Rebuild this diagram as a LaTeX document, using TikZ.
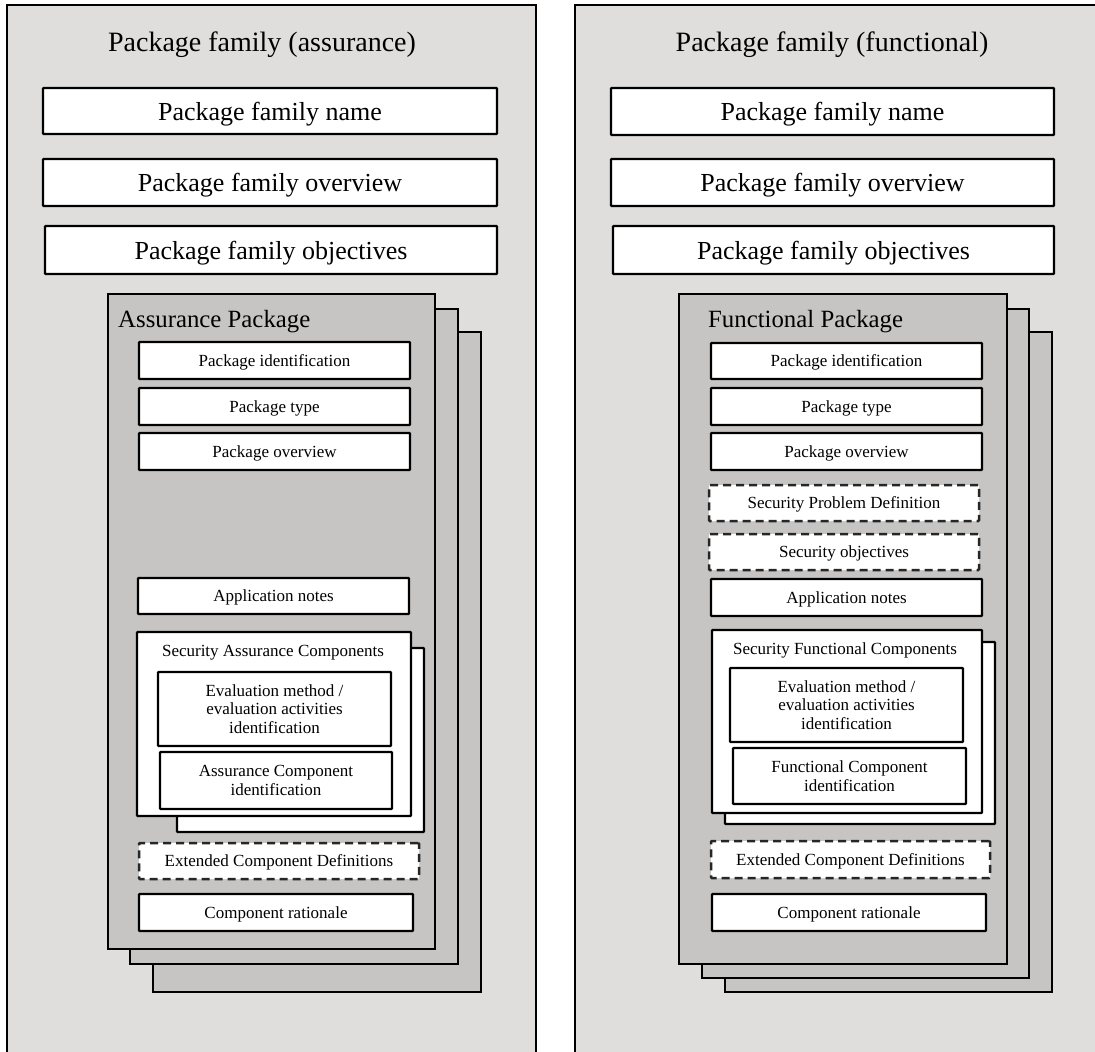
\documentclass[tikz,border=0pt]{standalone}
\usepackage{fontspec}
\setmainfont{Liberation Serif}
\definecolor{panelgray}{HTML}{DFDEDC}
\definecolor{pkggray}{HTML}{C6C5C4}
\definecolor{dashgray}{HTML}{262626}
\tikzset{
  panel/.style={draw=black, line width=2.3pt, fill=panelgray, inner sep=0pt},
  pkgbox/.style={draw=black, line width=2.3pt, fill=pkggray, inner sep=0pt},
  wbox/.style={draw=black, line width=2.3pt, fill=white, rounded corners=0.8pt, inner sep=0pt, align=center, text depth=0pt},
  dbox/.style={wbox, draw=dashgray, line width=2.5pt, dash pattern=on 8pt off 5pt},
  bigtxt/.style={font=\fontsize{26}{30}\selectfont},
  smalltxt/.style={font=\fontsize{17}{18.5}\selectfont},
  titletxt/.style={font=\fontsize{28}{33}\selectfont, inner sep=0pt, text depth=0pt},
  pkgtxt/.style={font=\fontsize{24.8}{28}\selectfont, inner sep=0pt, anchor=west, text depth=0pt},
  comptxt/.style={font=\fontsize{17}{18.5}\selectfont, inner sep=0pt, text depth=0pt},
}
\newcommand\bx[7]{\node[#6, minimum width=#4pt-#2pt, minimum height=#5pt-#3pt] (#1) at ({(#2+#4)/2},{(#3+#5)/2}) {#7};}
\begin{document}
\begin{tikzpicture}[x=1pt, y=-1pt]
\useasboundingbox (0,0) rectangle (1095,1052);
\clip (0,0) rectangle (1095,1052);
\fill[white] (0,0) rectangle (1095,1052);
% ---------- left panel ----------
\bx{lpanel}{7}{5}{536}{1075}{panel}{}
\node[titletxt] (ltitle) at (262,42) {Package family (assurance)};
\bx{lname}{43}{88}{497}{134}{wbox,bigtxt}{Package family name}
\bx{lover}{43}{159}{497}{206}{wbox,bigtxt}{Package family overview}
\bx{lobj}{45}{226}{497}{274}{wbox,bigtxt}{Package family objectives}
\bx{lpkgc}{153}{332}{481}{992}{pkgbox}{}
\bx{lpkgb}{130}{309}{458}{964}{pkgbox}{}
\bx{lpkga}{108}{294}{435}{949}{pkgbox}{}
\node[pkgtxt] (lpkglabel) at (118,319) {Assurance Package};
\bx{lid}{139}{342}{410}{379}{wbox,smalltxt}{Package identification}
\bx{ltype}{139}{388}{410}{425}{wbox,smalltxt}{Package type}
\bx{lpov}{139}{433}{410}{470}{wbox,smalltxt}{Package overview}
\bx{lapp}{138}{578}{409}{614}{wbox,smalltxt}{Application notes}
\bx{lsacb}{177}{648}{424}{832}{wbox}{}
\bx{lsaca}{137}{632}{411}{816}{wbox}{}
\node[comptxt] (lsaclabel) at (273,651) {Security Assurance Components};
\bx{leval}{158}{672}{391}{746}{wbox,smalltxt}{Evaluation method /\\evaluation activities\\identification}
\bx{lacid}{160}{752}{392}{809}{wbox,smalltxt}{Assurance Component\\identification}
\bx{lext}{139}{843}{419}{879}{dbox,smalltxt}{Extended Component Definitions}
\bx{lrat}{139}{894}{413}{931}{wbox,smalltxt}{Component rationale}
% ---------- right panel ----------
\bx{rpanel}{575}{5}{1120}{1075}{panel}{}
\node[titletxt] (rtitle) at (832,42) {Package family (functional)};
\bx{rname}{611}{88}{1054}{135}{wbox,bigtxt}{Package family name}
\bx{rover}{611}{159}{1054}{206}{wbox,bigtxt}{Package family overview}
\bx{robj}{613}{226}{1054}{274}{wbox,bigtxt}{Package family objectives}
\bx{rpkgc}{725}{332}{1052}{992}{pkgbox}{}
\bx{rpkgb}{702}{309}{1029}{978}{pkgbox}{}
\bx{rpkga}{679}{294}{1007}{964}{pkgbox}{}
\node[pkgtxt] (rpkglabel) at (708,319) {Functional Package};
\bx{rid}{711}{343}{982}{379}{wbox,smalltxt}{Package identification}
\bx{rtype}{711}{388}{982}{425}{wbox,smalltxt}{Package type}
\bx{rpov}{711}{433}{982}{470}{wbox,smalltxt}{Package overview}
\bx{rspd}{709}{485}{979}{521}{dbox,smalltxt}{Security Problem Definition}
\bx{rso}{709}{534}{979}{570}{dbox,smalltxt}{Security objectives}
\bx{rapp}{711}{579}{982}{616}{wbox,smalltxt}{Application notes}
\bx{rsfcb}{725}{642}{995}{824}{wbox}{}
\bx{rsfca}{712}{630}{982}{813}{wbox}{}
\node[comptxt] (rsfclabel) at (845,649) {Security Functional Components};
\bx{reval}{730}{668}{963}{742}{wbox,smalltxt}{Evaluation method /\\evaluation activities\\identification}
\bx{rfcid}{733}{748}{966}{804}{wbox,smalltxt}{Functional Component\\identification}
\bx{rext}{711}{841}{990}{878}{dbox,smalltxt}{Extended Component Definitions}
\bx{rrat}{712}{894}{986}{931}{wbox,smalltxt}{Component rationale}
\end{tikzpicture}
\end{document}
